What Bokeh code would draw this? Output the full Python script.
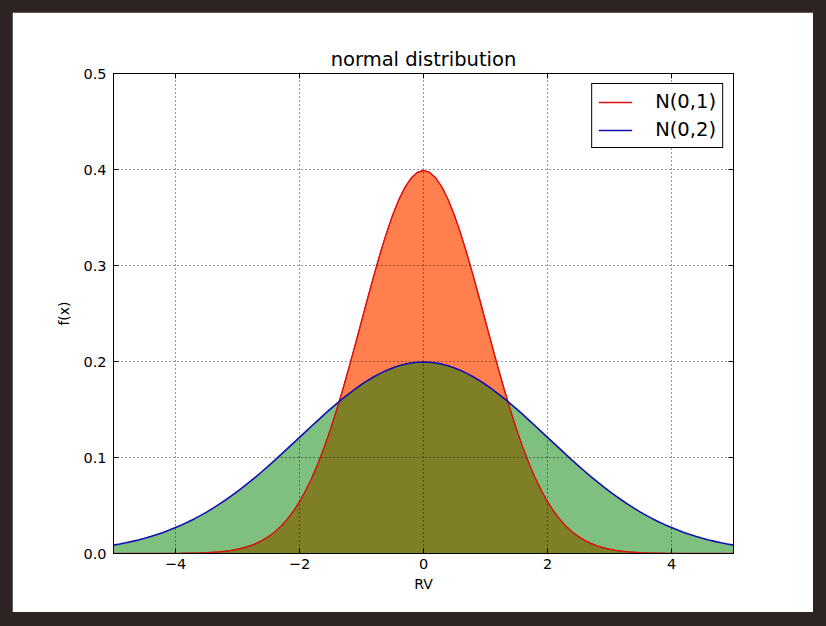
from bokeh.plotting import figure
from bokeh.layouts import column
from bokeh.models import (LinearAxis, FixedTicker, PrintfTickFormatter, ColumnDataSource,
                          CustomLabelingPolicy)
from bokeh.embed import file_html
from bokeh.resources import INLINE

# ---- data ----
x_vals = [-5.0, -4.9, -4.8, -4.7, -4.6, -4.5, -4.4, -4.3, -4.2, -4.1,
          -4.0, -3.9, -3.8, -3.7, -3.6, -3.5, -3.4, -3.3, -3.2, -3.1,
          -3.0, -2.9, -2.8, -2.7, -2.6, -2.5, -2.4, -2.3, -2.2, -2.1,
          -2.0, -1.9, -1.8, -1.7, -1.6, -1.5, -1.4, -1.3, -1.2, -1.1,
          -1.0, -0.9, -0.8, -0.7, -0.6, -0.5, -0.4, -0.3, -0.2, -0.1,
          0.0, 0.1, 0.2, 0.3, 0.4, 0.5, 0.6, 0.7, 0.8, 0.9,
          1.0, 1.1, 1.2, 1.3, 1.4, 1.5, 1.6, 1.7, 1.8, 1.9,
          2.0, 2.1, 2.2, 2.3, 2.4, 2.5, 2.6, 2.7, 2.8, 2.9,
          3.0, 3.1, 3.2, 3.3, 3.4, 3.5, 3.6, 3.7, 3.8, 3.9,
          4.0, 4.1, 4.2, 4.3, 4.4, 4.5, 4.6, 4.7, 4.8, 4.9, 5.0]
n01 = [0.0, 0.0, 0.0, 0.00001, 0.00001, 0.00002, 0.00003, 0.00004, 0.00006, 0.00009,
       0.00013, 0.00020, 0.00029, 0.00042, 0.00061, 0.00087, 0.00123, 0.00172, 0.00238, 0.00327,
       0.00443, 0.00595, 0.00792, 0.01042, 0.01358, 0.01753, 0.02239, 0.02833, 0.03547, 0.04398,
       0.05399, 0.06562, 0.07895, 0.09405, 0.11092, 0.12952, 0.14973, 0.17137, 0.19419, 0.21785,
       0.24197, 0.26609, 0.28969, 0.31225, 0.33322, 0.35207, 0.36827, 0.38139, 0.39104, 0.39695,
       0.39894, 0.39695, 0.39104, 0.38139, 0.36827, 0.35207, 0.33322, 0.31225, 0.28969, 0.26609,
       0.24197, 0.21785, 0.19419, 0.17137, 0.14973, 0.12952, 0.11092, 0.09405, 0.07895, 0.06562,
       0.05399, 0.04398, 0.03547, 0.02833, 0.02239, 0.01753, 0.01358, 0.01042, 0.00792, 0.00595,
       0.00443, 0.00327, 0.00238, 0.00172, 0.00123, 0.00087, 0.00061, 0.00042, 0.00029, 0.00020,
       0.00013, 0.00009, 0.00006, 0.00004, 0.00003, 0.00002, 0.00001, 0.00001, 0.0, 0.0, 0.0]
n02 = [0.00876, 0.00992, 0.01120, 0.01261, 0.01416, 0.01587, 0.01774, 0.01978, 0.02199, 0.02440,
       0.02700, 0.02980, 0.03281, 0.03603, 0.03948, 0.04314, 0.04702, 0.05113, 0.05546, 0.06000,
       0.06476, 0.06972, 0.07486, 0.08019, 0.08569, 0.09132, 0.09709, 0.10297, 0.10893, 0.11494,
       0.12099, 0.12703, 0.13304, 0.13899, 0.14485, 0.15057, 0.15613, 0.16148, 0.16661, 0.17147,
       0.17603, 0.18026, 0.18414, 0.18762, 0.19069, 0.19333, 0.19552, 0.19724, 0.19848, 0.19922,
       0.19947, 0.19922, 0.19848, 0.19724, 0.19552, 0.19333, 0.19069, 0.18762, 0.18414, 0.18026,
       0.17603, 0.17147, 0.16661, 0.16148, 0.15613, 0.15057, 0.14485, 0.13899, 0.13304, 0.12703,
       0.12099, 0.11494, 0.10893, 0.10297, 0.09709, 0.09132, 0.08569, 0.08019, 0.07486, 0.06972,
       0.06476, 0.06000, 0.05546, 0.05113, 0.04702, 0.04314, 0.03948, 0.03603, 0.03281, 0.02980,
       0.02700, 0.02440, 0.02199, 0.01978, 0.01774, 0.01587, 0.01416, 0.01261, 0.01120, 0.00992, 0.00876]
series_labels = ["N(0,1)", "N(0,2)"]
x_ticks = [-4, -2, 0, 2, 4]
x_tick_labels = ["\u22124", "\u22122", "0", "2", "4"]
y_ticks = [0.0, 0.1, 0.2, 0.3, 0.4, 0.5]

FONT = "DejaVu Sans"

src = ColumnDataSource(dict(x=x_vals, y1=n01, y2=n02, zero=[0.0] * len(x_vals)))

p = figure(output_backend="svg", toolbar_location=None,
           frame_width=620, frame_height=480,
           min_border_left=101, min_border_right=80,
           min_border_top=61, min_border_bottom=59,
           x_range=(-5, 5), y_range=(0, 0.5),
           title="normal distribution")
p.styles = {"box-shadow": "0 0 0 24px #2e2323"}

p.background_fill_color = "white"
p.border_fill_color = "white"
p.outline_line_color = "black"
p.outline_line_width = 1

p.title.text_font = FONT
p.title.text_font_size = "19.5px"
p.title.text_font_style = "normal"
p.title.align = "center"
p.title.text_color = "black"
p.title.standoff = 6

# fills
p.varea(x="x", y1="zero", y2="y1", source=src, fill_color="#FF7F4F", fill_alpha=1.0)
p.line(x="x", y="y1", source=src, line_color="#D02010", line_width=1.0)
p.varea(x="x", y1="zero", y2="y2", source=src, fill_color="#008000", fill_alpha=0.5)

# curves
p.line(x="x", y="y1", source=src, line_color="#E01010", line_width=1.4, legend_label=series_labels[0])
p.line(x="x", y="y2", source=src, line_color="#1010B0", line_width=1.6, legend_label=series_labels[1])

# axes
xa = p.xaxis[0]
xa.ticker = FixedTicker(ticks=x_ticks)
xa.major_label_overrides = {t: lab for t, lab in zip(x_ticks, x_tick_labels)}
xa.axis_label = "RV"
ya = p.yaxis[0]
ya.ticker = FixedTicker(ticks=y_ticks)
ya.formatter = PrintfTickFormatter(format="%.1f")
ya.axis_label = "f(x)"
for ax in (xa, ya):
    ax.major_tick_in = 5
    ax.major_tick_out = 0
    ax.minor_tick_line_color = None
    ax.axis_line_color = "black"
    ax.major_tick_line_color = "black"
    ax.major_label_text_font = FONT
    ax.major_label_text_font_size = "14.5px"
    ax.major_label_text_color = "black"
    ax.axis_label_text_font = FONT
    ax.axis_label_text_font_size = "14px"
    ax.axis_label_text_font_style = "normal"
    ax.axis_label_text_color = "black"
xa.major_label_standoff = 5
xa.axis_label_standoff = 4
ya.major_label_standoff = 7
ya.axis_label_standoff = 8

no_labels = "for (const i of indices) indices.unset(i)\nreturn indices"
top = LinearAxis(ticker=FixedTicker(ticks=x_ticks), major_tick_in=5, major_tick_out=0,
                 minor_tick_line_color=None, major_label_standoff=0, axis_line_color="black",
                 major_label_text_font_size="0px",
                 major_label_policy=CustomLabelingPolicy(code=no_labels))
right = LinearAxis(ticker=FixedTicker(ticks=y_ticks), major_tick_in=5, major_tick_out=0,
                   minor_tick_line_color=None, major_label_standoff=0, axis_line_color="black",
                   major_label_text_font_size="0px",
                   major_label_policy=CustomLabelingPolicy(code=no_labels))
p.add_layout(top, "above")
p.add_layout(right, "right")

# grid
for g in (p.xgrid[0], p.ygrid[0]):
    g.grid_line_color = "black"
    g.grid_line_alpha = 0.8
    g.grid_line_dash = "1 3"
    g.grid_line_width = 1
    g.level = "guide"
p.xgrid[0].ticker = FixedTicker(ticks=x_ticks)
p.ygrid[0].ticker = FixedTicker(ticks=y_ticks)

# legend
lg = p.legend[0]
lg.location = "top_right"
lg.margin = 10
lg.padding = 6
lg.spacing = 5
lg.glyph_width = 34
lg.glyph_height = 18
lg.label_height = 18
lg.label_standoff = 23
lg.label_text_font = FONT
lg.label_text_font_size = "19.5px"
lg.label_text_color = "black"
lg.border_line_color = "black"
lg.border_line_width = 1
lg.border_line_alpha = 1
lg.background_fill_color = "white"
lg.background_fill_alpha = 1

page = column(p, styles={"padding": "12px", "background-color": "#2e2323"})

open("out.html", "w").write(file_html(page, INLINE))
